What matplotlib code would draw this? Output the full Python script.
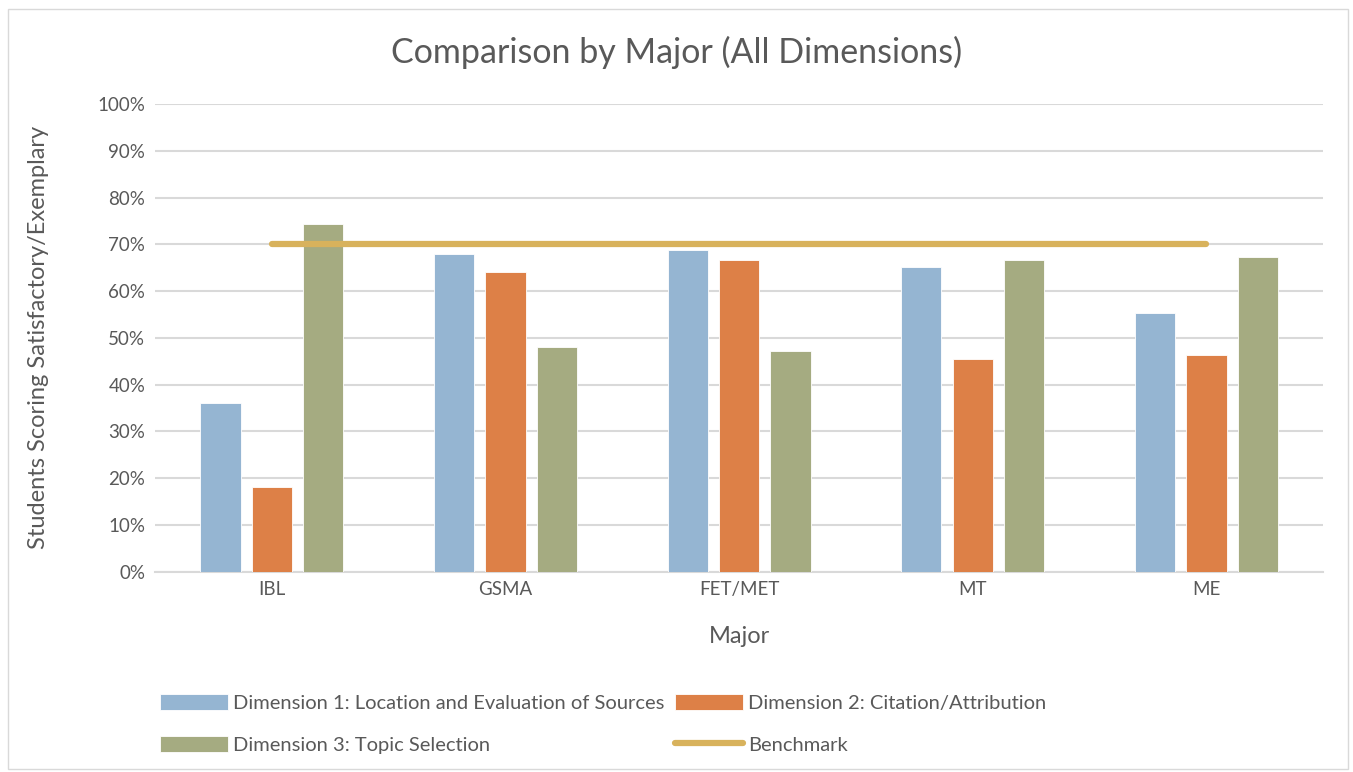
import matplotlib.pyplot as plt
from matplotlib.patches import Rectangle
from matplotlib.ticker import PercentFormatter
import numpy as np

# Share of students scoring satisfactory/exemplary, by major
majors = ['IBL', 'GSMA', 'FET/MET', 'MT', 'ME']
dim1 = [36.0, 68.0, 68.7, 65.2, 55.3]
dim2 = [18.0, 64.1, 66.7, 45.5, 46.4]
dim3 = [74.4, 48.1, 47.1, 66.7, 67.2]
benchmark = [70, 70, 70, 70, 70]

series_names = ['Dimension 1: Location and Evaluation of Sources',
                'Dimension 2: Citation/Attribution',
                'Dimension 3: Topic Selection']
colors = ['#95B5D2', '#DD8047', '#A5AB81']
bench_color = '#D8B25C'
text_color = '#595959'
grid_color = '#D9D9D9'

plt.rcParams['font.family'] = ['Lato', 'DejaVu Sans']

fig = plt.figure(figsize=(13.53, 7.72), dpi=100)
ax = fig.add_axes([0.1146, 0.2595, 0.8634, 0.6058])

x = np.arange(len(majors))
width = 0.172
step = 0.22
for i, (vals, name, c) in enumerate(zip([dim1, dim2, dim3], series_names, colors)):
    ax.bar(x + (i - 1) * step, vals, width, color=c, label=name, zorder=3,
           edgecolor='white', linewidth=0.6)

ax.plot(x, benchmark, color=bench_color, linewidth=4.5, solid_capstyle='round',
        label='Benchmark', zorder=4)

ax.set_xlim(-0.5, len(majors) - 0.5)
ax.set_ylim(0, 100)
ax.set_yticks(np.arange(0, 101, 10))
ax.yaxis.set_major_formatter(PercentFormatter(decimals=0))
ax.set_xticks(x)
ax.set_xticklabels(majors)
ax.grid(axis='y', color=grid_color, linewidth=1.5, zorder=0)
for s in ['top', 'right', 'left']:
    ax.spines[s].set_visible(False)
ax.spines['bottom'].set_color(grid_color)
ax.spines['bottom'].set_linewidth(1.5)
ax.tick_params(length=0, labelsize=13.5, colors=text_color, pad=7)

ax.set_xlabel('Major', fontsize=17, color=text_color, labelpad=20)
ax.set_ylabel('Students Scoring Satisfactory/Exemplary', fontsize=17,
              color=text_color, labelpad=35)
fig.text(0.5, 0.932, 'Comparison by Major (All Dimensions)', ha='center',
         va='center', fontsize=24.5, color=text_color)

handles, labels = ax.get_legend_handles_labels()
# bars first, benchmark last; ncol=2 fills by column so interleave to read across rows
handles = [handles[1], handles[3], handles[2], handles[0]]
labels = [labels[1], labels[3], labels[2], labels[0]]
fig.legend(handles, labels, ncol=2, loc='upper left',
           bbox_to_anchor=(0.112, 0.112), frameon=False, fontsize=14.5,
           labelcolor=text_color, handlelength=3.4, handleheight=0.85,
           handletextpad=0.25, columnspacing=0.5, labelspacing=1.2,
           borderaxespad=0)

fig.patches.append(Rectangle((0.006, 0.004), 0.99, 0.984, transform=fig.transFigure,
                             fill=False, edgecolor='#D9D9D9', linewidth=1))

fig.savefig('out.png', dpi=100, facecolor='white')
